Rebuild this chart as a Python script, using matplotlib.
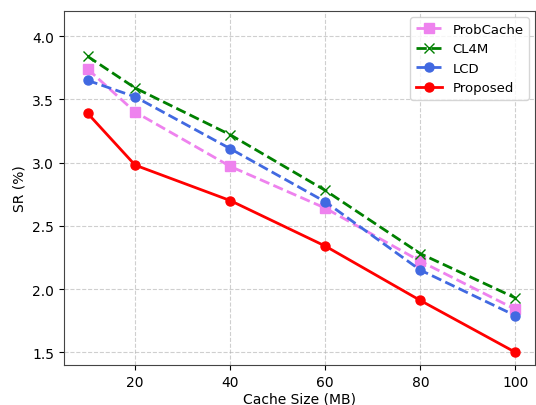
import matplotlib.pyplot as plt

cache_size = [10, 20, 40, 60, 80, 100]
probcache = [3.74, 3.40, 2.97, 2.64, 2.22, 1.84]
cl4m = [3.84, 3.59, 3.22, 2.78, 2.28, 1.93]
lcd = [3.65, 3.52, 3.11, 2.69, 2.15, 1.79]
proposed = [3.39, 2.98, 2.70, 2.34, 1.91, 1.50]

fig, ax = plt.subplots(figsize=(5.36, 4.06), dpi=100)

ax.plot(cache_size, probcache, color="violet", linestyle="--", marker="s",
        linewidth=2, markersize=6.5, label="ProbCache")
ax.plot(cache_size, cl4m, color="green", linestyle="--", marker="x",
        linewidth=2, markersize=6.5, label="CL4M")
ax.plot(cache_size, lcd, color="royalblue", linestyle="--", marker="o",
        linewidth=2, markersize=6.5, label="LCD")
ax.plot(cache_size, proposed, color="red", linestyle="-", marker="o",
        linewidth=2, markersize=6.5, label="Proposed")

ax.set_xlabel("Cache Size (MB)", labelpad=2)
ax.set_ylabel("SR (%)")
ax.set_xlim(5, 104.2)
ax.set_ylim(1.4, 4.2)
ax.grid(True, linestyle="--", alpha=0.6)
for s in ax.spines.values():
    s.set_edgecolor("#444444")
ax.legend(loc="upper right", fontsize=9.5)

fig.subplots_adjust(left=0.119, right=0.999, top=0.971, bottom=0.0985)
fig.savefig("out.png", dpi=100)
